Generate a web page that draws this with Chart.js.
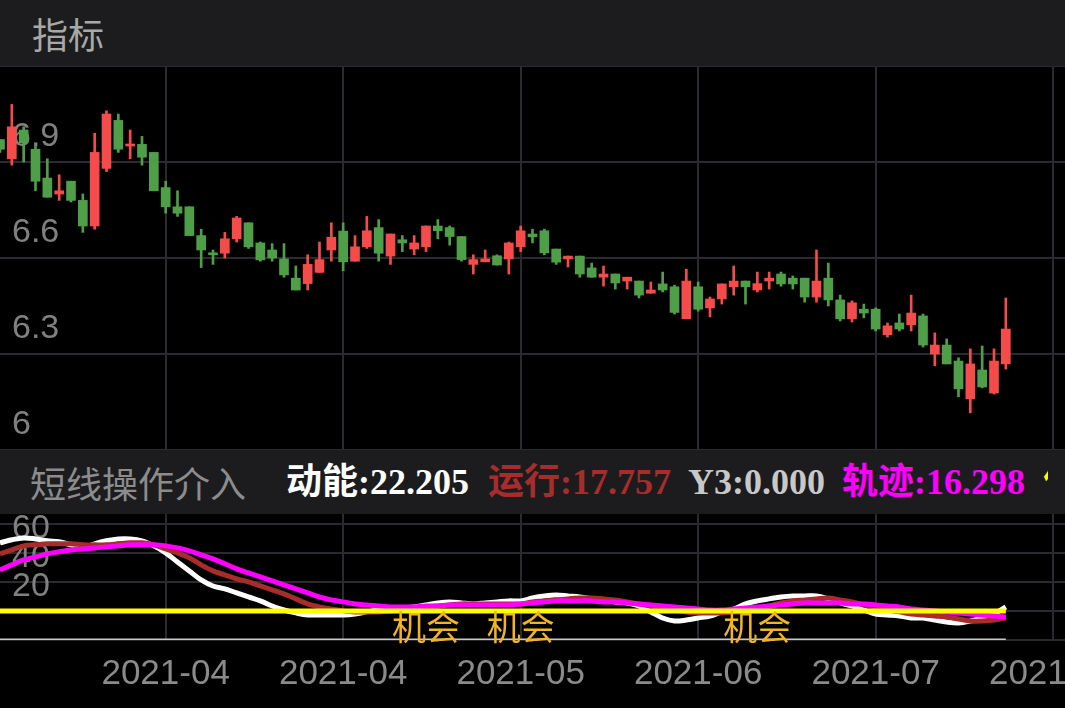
<!DOCTYPE html>
<html>
<head>
<meta charset="utf-8">
<title>指标</title>
<script src="https://cdn.jsdelivr.net/npm/chart.js@4.4.1/dist/chart.umd.min.js"></script>
<style>
    html, body { margin: 0; padding: 0; background: #000; }
    body { width: 1065px; height: 708px; overflow: hidden; position: relative; }
    .bar { position: absolute; left: 0; width: 1065px; background: #1c1c1e; overflow: hidden; }
    #hdTop { top: 0; height: 66px; }
    #hdMid { top: 450px; height: 64px; }
    .bar span { position: absolute; top: 0; white-space: nowrap; font-size: 36px; }
    #hdTop span { line-height: 66px; }
    #hdMid span { line-height: 64px; }
    .cn { font-family: "Noto Sans CJK SC", sans-serif; }
    .val { font-family: "Liberation Serif", "Noto Sans CJK SC", serif; font-weight: bold; }
    #hdMid span.cut { width: 5px; overflow: hidden; }
    canvas { position: absolute; left: 0; }
    #kline { top: 66px; }
    #ind { top: 514px; }
</style>
</head>
<body>
<div class="bar" id="hdTop"><span class="cn" style="left:32px;color:#a8a8a8">指标</span></div>
<canvas id="kline" width="1065" height="384"></canvas>
<div class="bar" id="hdMid">
    <span class="cn" style="left:30px;color:#8c8c8c">短线操作介入</span>
    <span class="val" style="left:286px;color:#ffffff">动能:22.205</span>
    <span class="val" style="left:488px;color:#a82c2c">运行:17.757</span>
    <span class="val" style="left:688px;color:#c8c8c8">Y3:0.000</span>
    <span class="val" style="left:842px;color:#ff00ff">轨迹:16.298</span>
    <span class="val cut" style="left:1043px;color:#ffff00">信号:20.000</span>
</div>
<canvas id="ind" width="1065" height="194"></canvas>

<script>
// ================= DATA =================
// daily candles (index 0..85)
const opens = [
    6.97, 6.91, 7.00, 6.94, 6.85, 6.80, 6.84, 6.78, 6.70, 6.88,
    7.03, 6.95, 6.955, 6.93, 6.82, 6.76, 6.76, 6.67, 6.615, 6.615,
    6.66, 6.71, 6.647, 6.625, 6.597, 6.537, 6.52, 6.555, 6.625, 6.684,
    6.59, 6.635, 6.695, 6.606, 6.657, 6.628, 6.635, 6.70, 6.695, 6.667,
    6.58, 6.588, 6.607, 6.597, 6.635, 6.675, 6.685, 6.628, 6.597, 6.606,
    6.569, 6.54, 6.55, 6.528, 6.528, 6.49, 6.519, 6.51, 6.41, 6.51,
    6.444, 6.472, 6.51, 6.528, 6.50, 6.528, 6.55, 6.537, 6.537, 6.478,
    6.537, 6.469, 6.41, 6.44, 6.44, 6.36, 6.397, 6.391, 6.419, 6.30,
    6.328, 6.278, 6.16, 6.25, 6.178, 6.269
];
const highs = [
    6.97, 7.08, 7.01, 6.95, 6.91, 6.86, 6.84, 6.80, 6.99, 7.06,
    7.05, 7.00, 6.98, 6.93, 6.84, 6.81, 6.76, 6.69, 6.625, 6.68,
    6.73, 6.71, 6.65, 6.645, 6.645, 6.575, 6.61, 6.65, 6.71, 6.71,
    6.67, 6.73, 6.72, 6.675, 6.67, 6.67, 6.70, 6.72, 6.70, 6.667,
    6.61, 6.625, 6.61, 6.65, 6.70, 6.69, 6.69, 6.628, 6.606, 6.606,
    6.584, 6.575, 6.55, 6.54, 6.528, 6.525, 6.556, 6.515, 6.565, 6.525,
    6.478, 6.519, 6.575, 6.528, 6.556, 6.556, 6.556, 6.544, 6.537, 6.625,
    6.584, 6.484, 6.466, 6.456, 6.444, 6.397, 6.425, 6.484, 6.425, 6.366,
    6.347, 6.288, 6.316, 6.325, 6.316, 6.475
];
const lows = [
    6.93, 6.89, 6.90, 6.81, 6.79, 6.78, 6.775, 6.68, 6.69, 6.87,
    6.93, 6.91, 6.89, 6.81, 6.74, 6.73, 6.67, 6.57, 6.58, 6.60,
    6.65, 6.63, 6.59, 6.59, 6.54, 6.50, 6.50, 6.555, 6.59, 6.56,
    6.59, 6.63, 6.59, 6.58, 6.62, 6.61, 6.62, 6.66, 6.64, 6.59,
    6.55, 6.588, 6.578, 6.55, 6.62, 6.647, 6.61, 6.58, 6.572, 6.54,
    6.54, 6.512, 6.503, 6.503, 6.475, 6.49, 6.494, 6.425, 6.41, 6.434,
    6.416, 6.456, 6.484, 6.456, 6.494, 6.503, 6.512, 6.503, 6.462, 6.462,
    6.45, 6.403, 6.40, 6.413, 6.372, 6.353, 6.372, 6.372, 6.322, 6.263,
    6.269, 6.166, 6.116, 6.194, 6.175, 6.253
];
const closes = [
    6.94, 7.01, 6.96, 6.84, 6.79, 6.81, 6.78, 6.70, 6.93, 7.05,
    6.94, 6.955, 6.915, 6.81, 6.76, 6.74, 6.67, 6.625, 6.61, 6.66,
    6.725, 6.635, 6.594, 6.60, 6.547, 6.50, 6.58, 6.595, 6.665, 6.588,
    6.635, 6.685, 6.615, 6.675, 6.647, 6.647, 6.70, 6.685, 6.667, 6.595,
    6.595, 6.597, 6.578, 6.647, 6.685, 6.666, 6.616, 6.587, 6.606, 6.55,
    6.54, 6.55, 6.522, 6.54, 6.484, 6.50, 6.50, 6.43, 6.528, 6.44,
    6.472, 6.519, 6.528, 6.51, 6.52, 6.537, 6.519, 6.519, 6.478, 6.528,
    6.469, 6.41, 6.46, 6.428, 6.378, 6.388, 6.378, 6.428, 6.328, 6.328,
    6.269, 6.191, 6.269, 6.197, 6.278, 6.378
];

// 短线操作介入 indicator lines
const dongneng = [
    67.1, 69.2, 70.5, 69.8, 68.5, 67.8, 65.7, 63.6, 66.4, 68.5,
    69.8, 69.8, 68.5, 65.0, 60.2, 53.9, 47.7, 41.5, 37.3, 35.3,
    32.5, 29.7, 27.0, 23.5, 20.7, 18.7, 17.3, 17.3, 17.3, 17.3,
    18.0, 19.4, 20.7, 21.4, 22.1, 22.8, 24.2, 25.6, 26.3, 25.6,
    24.9, 25.6, 26.3, 27.0, 27.0, 29.0, 30.4, 31.1, 30.4, 29.7,
    28.4, 27.0, 26.3, 25.6, 23.5, 19.4, 15.2, 13.1, 13.8, 15.2,
    16.6, 19.4, 21.4, 24.9, 27.0, 28.4, 29.7, 30.4, 30.4, 30.4,
    28.4, 25.6, 23.5, 20.7, 18.0, 17.3, 16.6, 15.2, 15.2, 13.8,
    12.4, 11.8, 13.1, 15.2, 18.0, 22.8
];
const yunxing = [
    59.5, 62.2, 65.0, 65.7, 66.4, 66.4, 66.4, 65.7, 65.7, 65.7,
    66.4, 67.1, 67.1, 65.7, 62.9, 60.2, 56.7, 51.9, 47.7, 45.0,
    42.2, 40.1, 37.3, 34.6, 31.8, 28.4, 24.9, 22.8, 21.4, 20.1,
    19.4, 19.4, 19.4, 20.1, 20.7, 22.1, 22.8, 23.5, 24.2, 24.9,
    24.9, 24.9, 24.9, 24.9, 24.9, 26.3, 27.0, 27.7, 28.4, 29.0,
    29.0, 28.4, 27.7, 26.3, 24.9, 23.5, 22.1, 20.7, 19.4, 18.7,
    18.7, 18.7, 19.4, 19.4, 21.4, 23.5, 25.6, 27.0, 27.7, 28.4,
    29.0, 27.7, 26.3, 24.2, 22.8, 20.7, 19.4, 18.0, 17.3, 16.6,
    15.9, 14.5, 13.1, 13.1, 13.8, 15.2
];
const guiji = [
    48.4, 51.9, 55.3, 57.4, 59.5, 60.9, 62.2, 62.9, 63.6, 64.3,
    65.0, 65.7, 65.7, 65.7, 65.0, 63.6, 61.5, 58.8, 56.0, 52.6,
    49.1, 46.3, 43.6, 40.8, 38.0, 35.3, 32.5, 29.7, 27.7, 26.3,
    24.9, 24.2, 23.5, 22.8, 22.8, 22.8, 23.5, 23.5, 24.2, 24.2,
    24.2, 24.2, 24.2, 24.2, 24.9, 25.6, 26.3, 27.0, 27.0, 27.0,
    27.0, 26.3, 26.3, 25.6, 24.9, 24.2, 23.5, 22.8, 22.1, 21.4,
    20.7, 20.7, 21.4, 22.1, 22.8, 23.5, 24.2, 24.9, 25.6, 25.6,
    25.6, 25.6, 24.9, 24.9, 24.2, 23.5, 22.8, 21.4, 20.7, 20.1,
    19.4, 18.7, 18.0, 17.3, 16.6, 15.9
];
const jueceLevel = 20;   // yellow line
const y3Level = 0;       // Y3 line
const chanceIdx = [36, 44, 64];   // "机会" signals

// axes
const xTickIdx = [14, 29, 44, 59, 74, 89];
const xTickLabels = ["2021-04", "2021-04", "2021-05", "2021-06", "2021-07", "2021-07"];
const priceTicks = [6.0, 6.3, 6.6, 6.9, 7.2];
const priceLabels = ["6", "6.3", "6.6", "6.9", "7.2"];
const indTicks = [0, 20, 40, 60, 80];
const indLabels = ["", "20", "40", "60", ""];

// ================= STYLE =================
const UP = "#f54b4b";
const DOWN = "#4f9f48";
const GRID = "#2a2a31";
const lastIdx = closes.length - 1;

function xAxis(showLabels) {
    return {
        type: "linear",
        min: 0,
        max: 90,
        offset: false,
        afterBuildTicks: (s) => { s.ticks = xTickIdx.map(v => ({ value: v })); },
        afterFit: (s) => {
            s.paddingLeft = 0;
            s.paddingRight = 0;
            s.height = showLabels ? 68 : 0;
        },
        grid: { color: GRID, lineWidth: 2, drawTicks: false, offset: false },
        border: { display: false },
        ticks: {
            display: showLabels,
            autoSkip: false,
            maxRotation: 0,
            padding: 13,
            color: "#8a8a8a",
            font: { family: "Liberation Sans", size: 35 },
            callback: (v, i) => xTickLabels[i]
        }
    };
}

function yAxis(min, max, ticks, labels, offset) {
    return {
        min,
        max,
        afterBuildTicks: (s) => { s.ticks = ticks.map(v => ({ value: v })); },
        afterFit: (s) => {
            s.width = 0;
            s.paddingTop = 0;
            s.paddingBottom = 0;
        },
        grid: { color: GRID, lineWidth: 2, drawTicks: false },
        border: { display: false },
        ticks: {
            mirror: true,
            autoSkip: false,
            padding: 12,
            labelOffset: offset,
            color: "#808080",
            font: { family: "Liberation Sans", size: 34 },
            callback: (v, i) => labels[i]
        }
    };
}

const common = {
    responsive: false,
    animation: false,
    devicePixelRatio: 1,
    events: [],
    layout: { padding: 0 },
    plugins: { legend: { display: false }, tooltip: { enabled: false } }
};

// ================= K LINE =================
const candleColors = opens.map((o, i) => (closes[i] >= o ? UP : DOWN));

new Chart(document.getElementById("kline"), {
    type: "bar",
    data: {
        datasets: [
            {
                label: "body",
                data: opens.map((o, i) => ({ x: i, y: [o, closes[i]] })),
                backgroundColor: candleColors,
                borderWidth: 0,
                grouped: false,
                barThickness: 9,
                maxBarThickness: 9,
                minBarLength: 2,
                order: 1
            },
            {
                label: "wick",
                data: lows.map((l, i) => ({ x: i, y: [l, highs[i]] })),
                backgroundColor: candleColors,
                borderWidth: 0,
                grouped: false,
                barThickness: 2,
                maxBarThickness: 2,
                order: 2
            }
        ]
    },
    options: {
        ...common,
        scales: {
            x: xAxis(false),
            y: yAxis(6.0, 7.2, priceTicks, priceLabels, -25)
        }
    }
});

// ================= INDICATOR =================
const toPts = arr => arr.map((v, i) => ({ x: i, y: v }));
const flat = v => [{ x: 0, y: v }, { x: lastIdx, y: v }];

const chanceLabels = {
    id: "chanceLabels",
    afterDatasetsDraw(chart) {
        const { ctx, scales } = chart;
        ctx.save();
        ctx.fillStyle = "#f2b327";
        ctx.font = "34px 'Noto Sans CJK SC'";
        ctx.textAlign = "center";
        ctx.textBaseline = "middle";
        chanceIdx.forEach(i => {
            ctx.fillText("机会", scales.x.getPixelForValue(i), scales.y.getPixelForValue(jueceLevel) + 16);
        });
        ctx.restore();
    }
};

const lineStyle = { pointRadius: 0, borderWidth: 5, tension: 0.35, fill: false };

new Chart(document.getElementById("ind"), {
    type: "line",
    data: {
        datasets: [
            { label: "Y3", data: flat(y3Level), borderColor: "#c8c8c8", ...lineStyle, borderWidth: 3, order: 5 },
            { label: "动能", data: toPts(dongneng), borderColor: "#ffffff", ...lineStyle, order: 4 },
            { label: "运行", data: toPts(yunxing), borderColor: "#a82c2c", ...lineStyle, order: 3 },
            { label: "轨迹", data: toPts(guiji), borderColor: "#ff00ff", ...lineStyle, order: 2 },
            { label: "决策", data: flat(jueceLevel), borderColor: "#ffff00", ...lineStyle, order: 1 }
        ]
    },
    options: {
        ...common,
        scales: {
            x: xAxis(true),
            y: yAxis(0, 87, indTicks, indLabels, -24)
        }
    },
    plugins: [chanceLabels]
});
</script>
</body>
</html>
